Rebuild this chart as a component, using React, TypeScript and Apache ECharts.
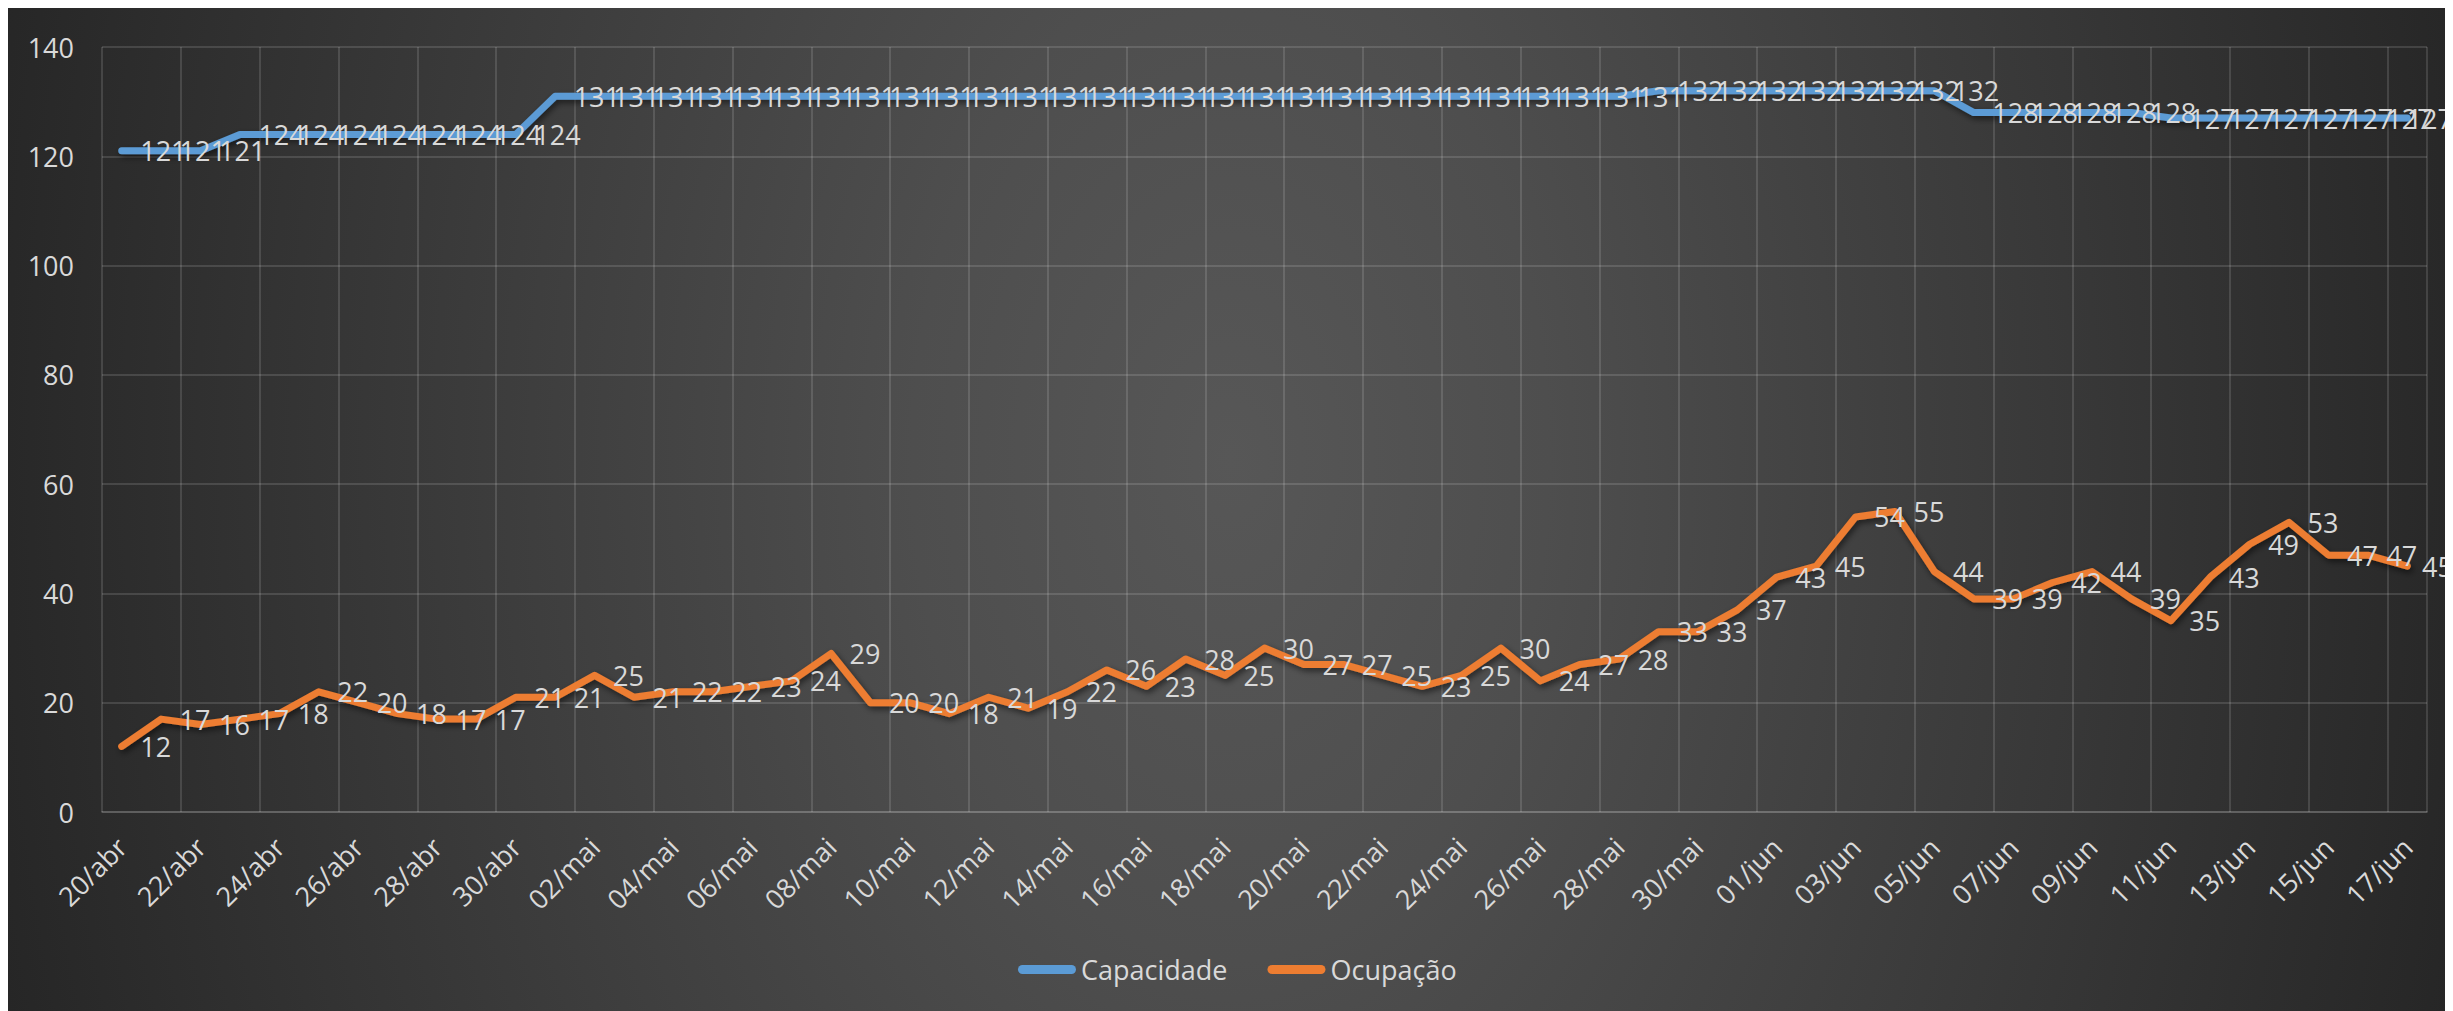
import React, { useEffect, useRef } from 'react';
import * as echarts from 'echarts';

const categories = [
  '20/abr', '21/abr', '22/abr', '23/abr', '24/abr', '25/abr', '26/abr', '27/abr', '28/abr', '29/abr', '30/abr',
  '01/mai', '02/mai', '03/mai', '04/mai', '05/mai', '06/mai', '07/mai', '08/mai', '09/mai', '10/mai',
  '11/mai', '12/mai', '13/mai', '14/mai', '15/mai', '16/mai', '17/mai', '18/mai', '19/mai', '20/mai',
  '21/mai', '22/mai', '23/mai', '24/mai', '25/mai', '26/mai', '27/mai', '28/mai', '29/mai', '30/mai', '31/mai',
  '01/jun', '02/jun', '03/jun', '04/jun', '05/jun', '06/jun', '07/jun', '08/jun', '09/jun', '10/jun',
  '11/jun', '12/jun', '13/jun', '14/jun', '15/jun', '16/jun', '17/jun',
];

const capacidade = [
  121, 121, 121,
  124, 124, 124, 124, 124, 124, 124, 124,
  131, 131, 131, 131, 131, 131, 131, 131, 131, 131,
  131, 131, 131, 131, 131, 131, 131, 131, 131, 131,
  131, 131, 131, 131, 131, 131, 131, 131,
  132, 132, 132, 132, 132, 132, 132, 132,
  128, 128, 128, 128, 128,
  127, 127, 127, 127, 127, 127, 127,
];

const ocupacao = [
  12, 17, 16, 17, 18, 22, 20, 18, 17, 17, 21,
  21, 25, 21, 22, 22, 23, 24, 29, 20, 20,
  18, 21, 19, 22, 26, 23, 28, 25, 30, 27,
  27, 25, 23, 25, 30, 24, 27, 28, 33, 33, 37,
  43, 45, 54, 55, 44, 39, 39, 42, 44, 39,
  35, 43, 49, 53, 47, 47, 45,
];

const seriesNames = ['Capacidade', 'Ocupação'];
const seriesColors = ['#5B9BD5', '#ED7D31'];

const yMin = 0;
const yMax = 140;
const yInterval = 20;

const FONT = "'Open Sans', 'Noto Sans', sans-serif";
const TEXT = '#d9d9d9';
const GRID = 'rgba(255,255,255,0.13)';
const CHART_W = 2445;
const CHART_H = 1003;

const stadium = 'path://M4.5,0 L53.5,0 A4.5,4.5 0 0 1 53.5,9 L4.5,9 A4.5,4.5 0 0 1 4.5,0 Z';

export default function App() {
  const ref = useRef<HTMLDivElement>(null);

  useEffect(() => {
    if (!ref.current) return;
    document.documentElement.style.overflow = 'hidden';
    document.body.style.overflow = 'hidden';
    const chart = echarts.init(ref.current, null, { renderer: 'svg' });

    const makeSeries = (name: string, data: number[], color: string) => ({
      name,
      type: 'line',
      data,
      symbol: 'circle',
      symbolSize: 1,
      showSymbol: true,
      showAllSymbol: true,
      itemStyle: { color },
      lineStyle: {
        color,
        width: 7,
        cap: 'round',
        join: 'round',
        shadowColor: 'rgba(0,0,0,0.55)',
        shadowBlur: 6,
        shadowOffsetX: 2,
        shadowOffsetY: 3,
      },
      label: {
        show: true,
        position: 'right',
        distance: 18,
        color: TEXT,
        fontSize: 27,
        fontFamily: FONT,
      },
      labelLayout: (params: any) => {
        const r = params.labelRect;
        const over = r.x + r.width - CHART_W;
        return over > 0 ? { dx: -over } : {};
      },
      emphasis: { disabled: true },
    });

    chart.setOption({
      animation: false,
      backgroundColor: 'transparent',
      textStyle: { fontFamily: FONT },
      grid: { left: 94, right: 26, top: 39, bottom: 199, containLabel: false },
      legend: {
        data: seriesNames,
        left: 1005,
        top: 943,
        itemWidth: 58,
        itemHeight: 9,
        itemGap: 40,
        icon: stadium,
        textStyle: { color: TEXT, fontSize: 27, fontFamily: FONT },
      },
      xAxis: {
        type: 'category',
        data: categories,
        boundaryGap: true,
        axisLine: { show: true, lineStyle: { color: GRID, width: 2 } },
        axisTick: { show: false },
        axisLabel: {
          interval: 1,
          rotate: 45,
          color: TEXT,
          fontSize: 27,
          fontFamily: FONT,
          margin: 30,
        },
        splitLine: { show: true, interval: 1, lineStyle: { color: GRID, width: 2 } },
      },
      yAxis: {
        type: 'value',
        min: yMin,
        max: yMax,
        interval: yInterval,
        axisLine: { show: false },
        axisTick: { show: false },
        axisLabel: { color: TEXT, fontSize: 27, fontFamily: FONT, margin: 28 },
        splitLine: { show: true, lineStyle: { color: GRID, width: 2 } },
      },
      series: [
        makeSeries(seriesNames[0], capacidade, seriesColors[0]),
        makeSeries(seriesNames[1], ocupacao, seriesColors[1]),
      ],
    });

    return () => chart.dispose();
  }, []);

  return (
    <div
      ref={ref}
      style={{
        width: CHART_W,
        height: CHART_H,
        background:
          'radial-gradient(ellipse 52% 200% at 50% 45%, #575757 0%, #4e4e4e 25%, #262626 100%)',
      }}
    />
  );
}
